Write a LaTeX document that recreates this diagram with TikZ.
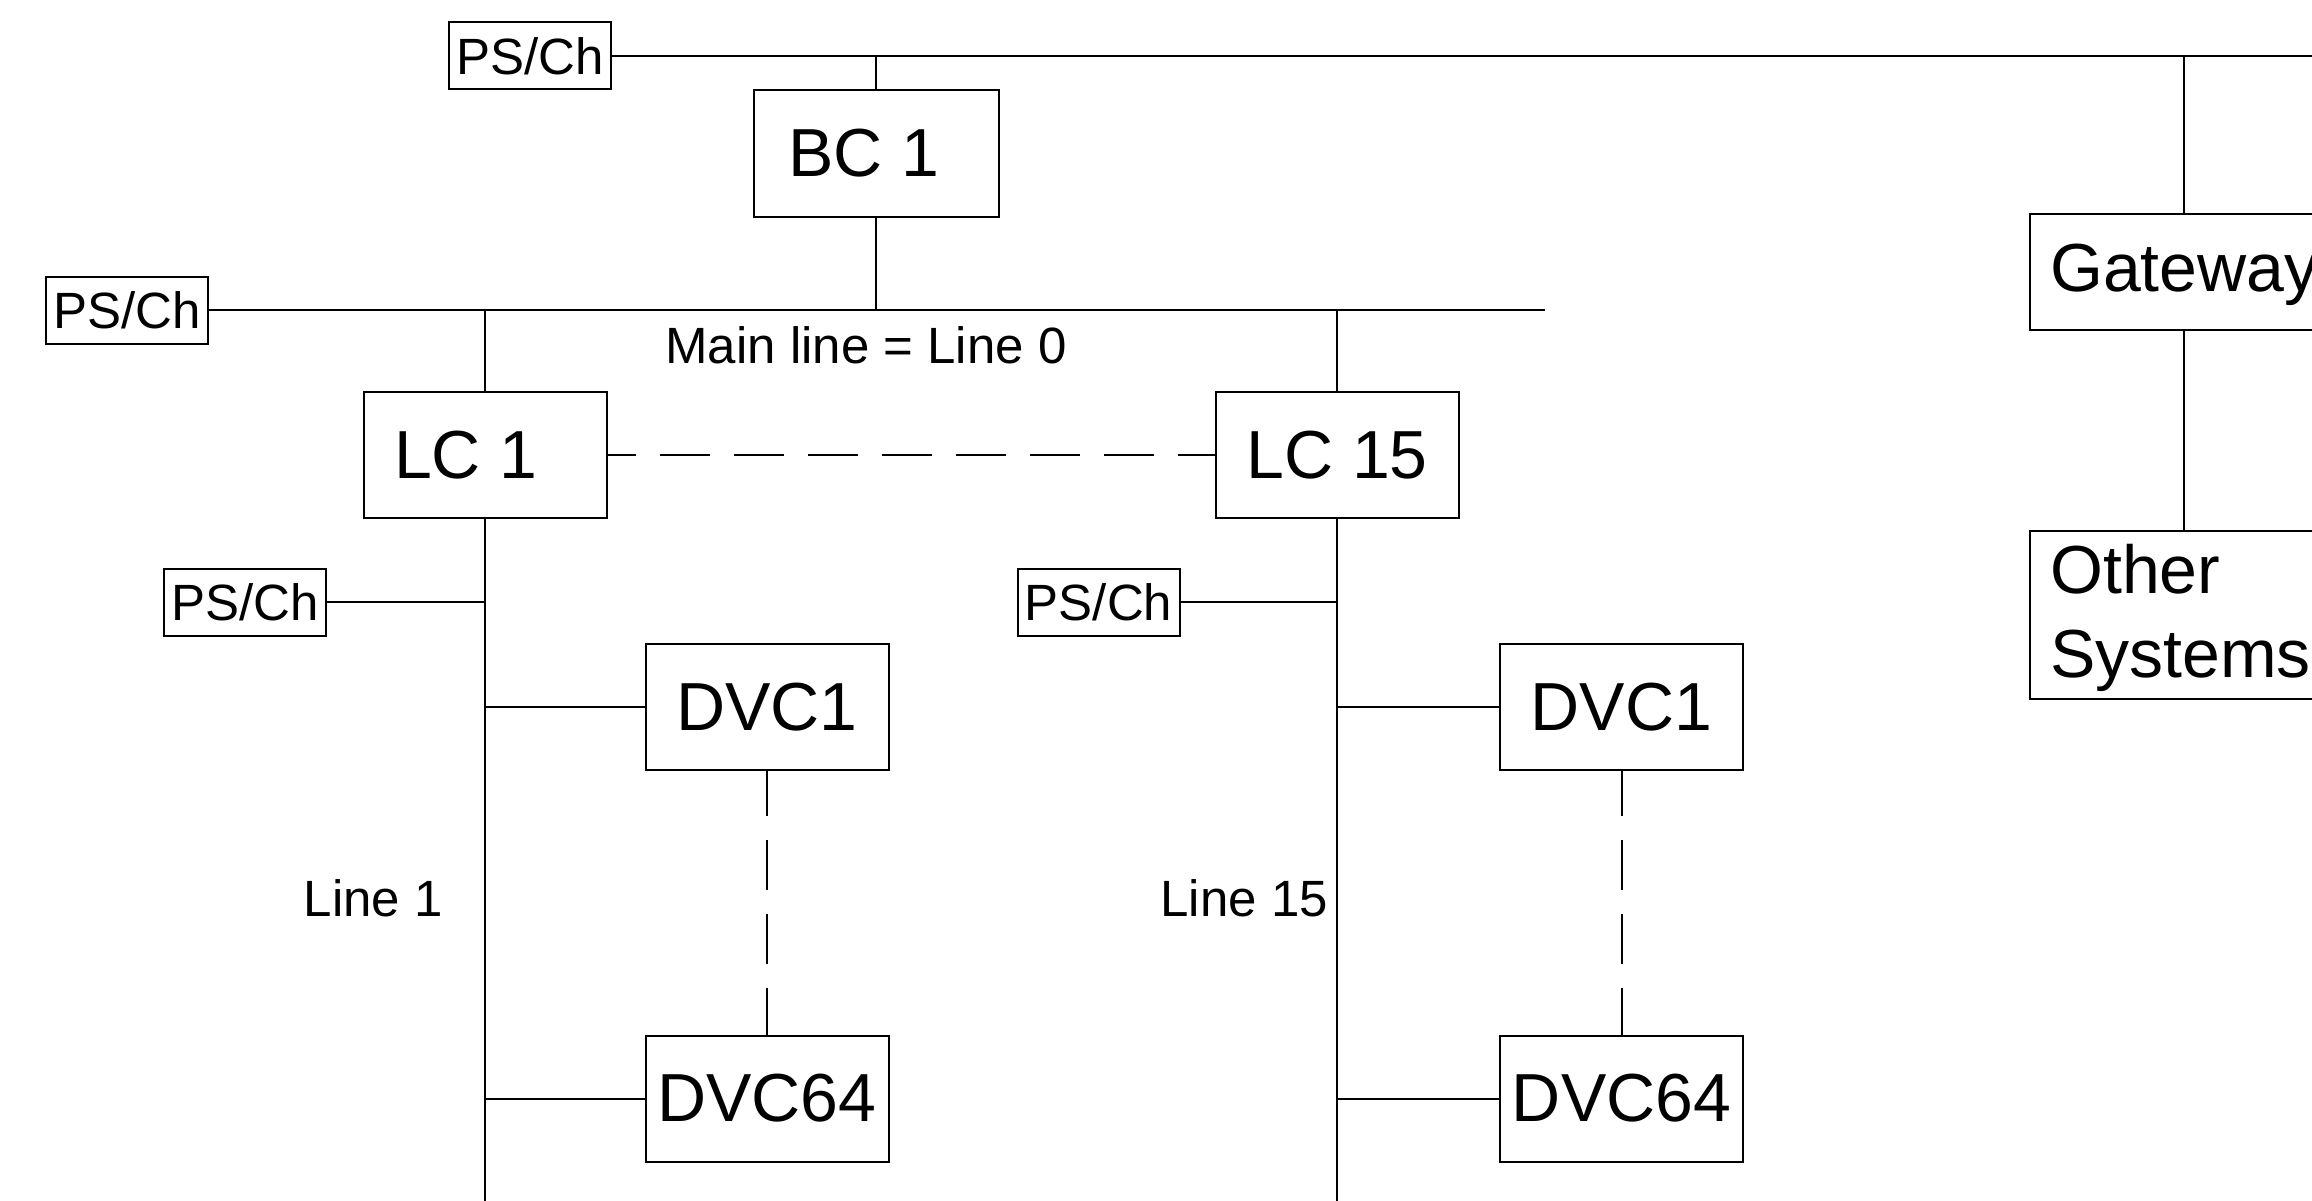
\documentclass[tikz,border=0pt]{standalone}
\usepackage{fontspec}
\setmainfont{Liberation Sans}
\newcommand{\bigtxt}{\fontsize{68pt}{80pt}\selectfont}
\newcommand{\smalltxt}{\fontsize{51pt}{60pt}\selectfont}
\begin{document}
\begin{tikzpicture}[x=1pt,y=-1pt,
  box/.style={draw, line width=2pt, minimum width=243pt, minimum height=126pt, inner sep=0pt, font=\bigtxt},
  psbox/.style={draw, line width=2pt, minimum width=162pt, minimum height=67pt, inner sep=0pt, font=\smalltxt},
  lbl/.style={inner sep=0pt, font=\smalltxt},
  biglbl/.style={inner sep=0pt, font=\bigtxt, anchor=base west},
  wire/.style={line width=2pt},
  dashwire/.style={line width=2pt, dash pattern=on 50pt off 24pt}]
\useasboundingbox (0,0) rectangle (2312,1201);
\clip (0,0) rectangle (2312,1201);
\fill[white] (0,0) rectangle (2312,1201);

% nodes
\node[psbox] (psTop) at (530,56) {PS/Ch};
\node[box, minimum width=245pt, minimum height=127pt] (bc1) at (876,153.5) {\hbox{BC 1\kern24pt}};
\node[psbox] (psMain) at (127,310) {PS/Ch};
\node[box] (lc1) at (485,455) {\hbox{LC 1\kern38pt}};
\node[box] (lc15) at (1337,455) {LC 15};
\node[psbox] (psL1) at (245,602) {PS/Ch};
\node[psbox] (psL15) at (1098.5,602) {PS/Ch};
\node[box] (dvcA1) at (767,707) {DVC1};
\node[box] (dvcA64) at (767,1098.5) {DVC64};
\node[box] (dvcB1) at (1621.5,707) {DVC1};
\node[box] (dvcB64) at (1621.5,1098.5) {DVC64};
\node[draw, line width=2pt, minimum width=308pt, minimum height=116pt, inner sep=0pt] (gw) at (2184,272) {};
\node[draw, line width=2pt, minimum width=308pt, minimum height=168pt, inner sep=0pt] (oth) at (2184,615) {};

% labels
\node[biglbl] (gwt) at (2050,291) {Gateway};
\node[biglbl] (otha) at (2050,593) {Other};
\node[biglbl] (othb) at (2050,677) {Systems};
\node[lbl] (mainlbl) at (866,345) {Main line = Line 0};
\node[lbl, anchor=east] (l1lbl) at (443,898) {Line 1};
\node[lbl, anchor=east] (l15lbl) at (1328,898) {Line 15};

% coordinates for free ends
\coordinate (topR) at (2330,56);
\coordinate (mainR) at (1545,310);
\coordinate (l1end) at (485,1215);
\coordinate (l15end) at (1337,1215);

% connectors
\draw[wire] (psTop.east) -- (topR);
\draw[wire] (bc1.north) -- (bc1.north |- topR);
\draw[wire] (gw.north) -- (gw.north |- topR);
\draw[wire] (gw.south) -- (oth.north);
\draw[wire] (psMain.east) -- (mainR);
\draw[wire] (bc1.south) -- (bc1.south |- mainR);
\draw[wire] (lc1.north) -- (lc1.north |- mainR);
\draw[wire] (lc15.north) -- (lc15.north |- mainR);
\draw[dashwire, dash phase=22pt] (lc1.east) -- (lc15.west);
\draw[wire] (lc1.south) -- (l1end);
\draw[wire] (lc15.south) -- (l15end);
\draw[wire] (psL1.east) -- (psL1.east -| l1end);
\draw[wire] (psL15.east) -- (psL15.east -| l15end);
\draw[wire] (dvcA1.west) -- (dvcA1.west -| l1end);
\draw[wire] (dvcA64.west) -- (dvcA64.west -| l1end);
\draw[wire] (dvcB1.west) -- (dvcB1.west -| l15end);
\draw[wire] (dvcB64.west) -- (dvcB64.west -| l15end);
\draw[dashwire, dash phase=5pt] (dvcA1.south) -- (dvcA64.north);
\draw[dashwire, dash phase=5pt] (dvcB1.south) -- (dvcB64.north);
\end{tikzpicture}
\end{document}
